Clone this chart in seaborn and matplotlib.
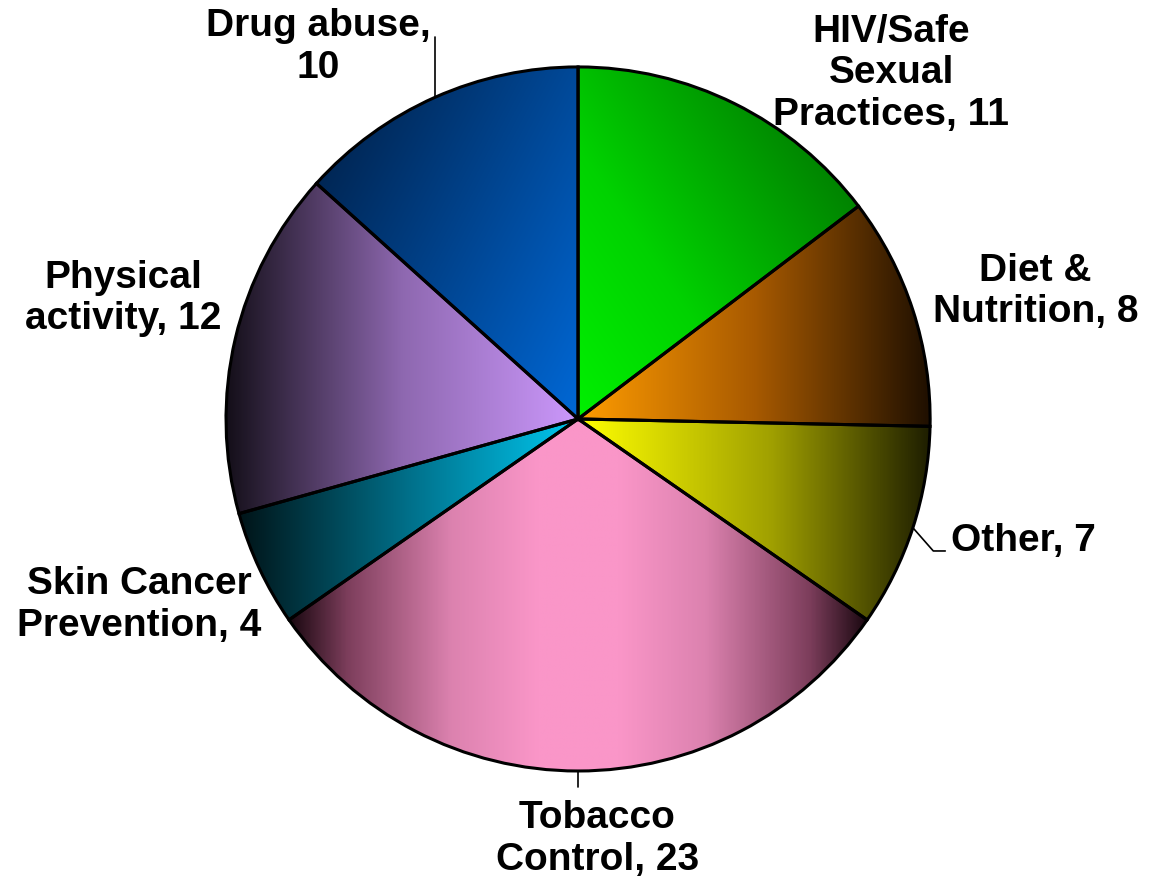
import numpy as np
import matplotlib.pyplot as plt
import seaborn as sns
from matplotlib.colors import LinearSegmentedColormap

# data, clockwise from 12 o'clock
names = ['HIV/Safe\nSexual\nPractices', 'Diet &\nNutrition', 'Other', 'Tobacco\nControl',
         'Skin Cancer\nPrevention', 'Physical\nactivity', 'Drug abuse']
values = [11, 8, 7, 23, 4, 12, 10]

# gradient stops per slice, and gradient direction in degrees
grad_colors = [
    [(0, '#00f000'), (0.35, '#00d200'), (1, '#006400')],
    [(0, '#ff9c00'), (0.5, '#a85a00'), (1, '#1e0f00')],
    [(0, '#ffff00'), (0.55, '#a0a000'), (1, '#1e1e00')],
    [(0, '#1a0810'), (0.1, '#7d3e5c'), (0.28, '#dc82af'), (0.43, '#fa96c8'),
     (0.57, '#fa96c8'), (0.72, '#dc82af'), (0.9, '#7d3e5c'), (1, '#1a0810')],
    [(0, '#001418'), (0.5, '#00708a'), (1, '#00c8f0')],
    [(0, '#140f19'), (0.5, '#8e68b0'), (1, '#cc98fc')],
    [(0, '#001c40'), (1, '#0068d6')],
]
grad_dir = [40, 0, 0, 0, 0, 0, -35]

# label centres (data units, pie radius = 1)
label_pos = [(0.89, 0.985), (1.30, 0.365), (1.264, -0.343), (0.054, -1.19),
             (-1.246, -0.525), (-1.293, 0.345), (-0.739, 1.06)]

sns.set_theme(style='white')
plt.rcParams['font.family'] = ['Liberation Sans', 'DejaVu Sans']

fig = plt.figure(figsize=(11.66, 8.79), dpi=100)
ax = fig.add_axes([0, 0, 1, 1])

wedges, _ = ax.pie(values, startangle=90, counterclock=False,
                   wedgeprops=dict(edgecolor='black', linewidth=2.2, facecolor='none'))

for w, cols, ang in zip(wedges, grad_colors, grad_dir):
    ext = w.get_path().get_extents()
    xs = np.linspace(0, 1, 400)
    X, Y = np.meshgrid(xs, xs)
    a = np.deg2rad(ang)
    t = X * np.cos(a) + Y * np.sin(a)
    t = (t - t.min()) / (t.max() - t.min())
    cmap = LinearSegmentedColormap.from_list('g', cols, N=512)
    im = ax.imshow(t, cmap=cmap, origin='lower', aspect='auto', interpolation='bilinear',
                   extent=(ext.x0, ext.x1, ext.y0, ext.y1), zorder=0.5)
    im.set_clip_path(w)

for name, v, (lx, ly) in zip(names, values, label_pos):
    txt = f'{name},\n{v}' if name == 'Drug abuse' else f'{name}, {v}'
    ax.text(lx, ly, txt, ha='center', va='center', fontsize=28, fontweight='bold',
            color='black', linespacing=1.2)

# leader lines from the slice mid-angle on the rim
mids = 90 - (np.cumsum(values) - np.array(values) / 2) / sum(values) * 360
rim = [(np.cos(np.deg2rad(m)), np.sin(np.deg2rad(m))) for m in mids]
x, y = rim[6]
ax.plot([x, x], [y, 1.085], color='black', lw=1.2)
x, y = rim[2]
ax.plot([x, 1.009, 1.043], [y, -0.375, -0.375], color='black', lw=1.2)
x, y = rim[3]
ax.plot([x, x], [y, -1.045], color='black', lw=1.2)

ax.set_xlim(-1.642, 1.670)
ax.set_ylim(-1.304, 1.193)
ax.set_aspect('equal', adjustable='datalim')
ax.axis('off')

fig.savefig('out.png', dpi=100, facecolor='white')
